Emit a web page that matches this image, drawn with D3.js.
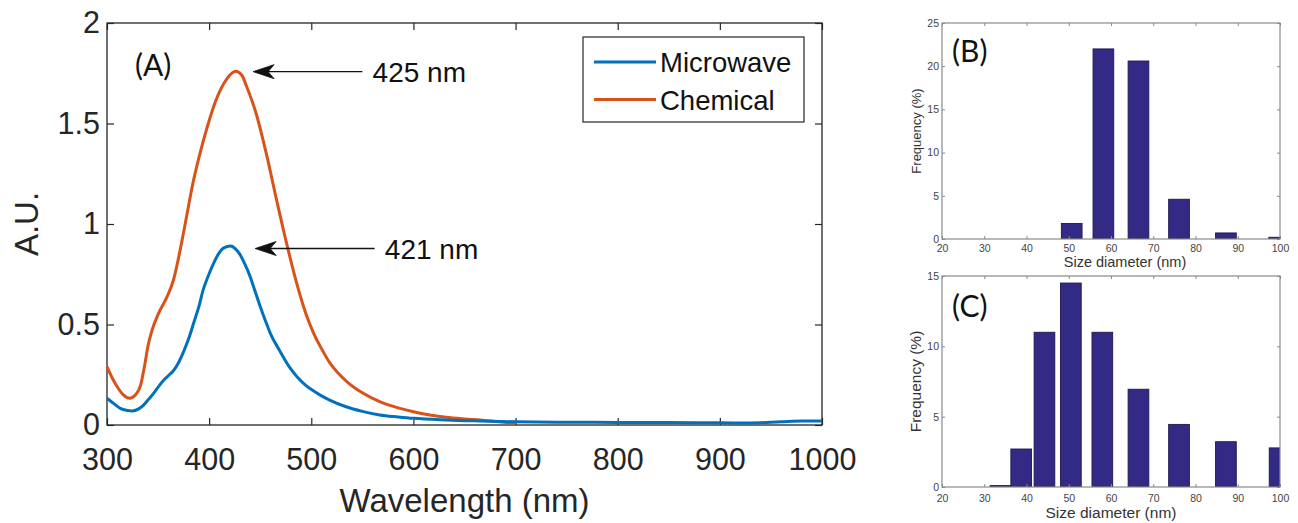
<!DOCTYPE html>
<html><head><meta charset="utf-8">
<script src="https://cdn.jsdelivr.net/npm/d3@7/dist/d3.min.js"></script>
<style>body{margin:0;background:#fff}svg{display:block}</style>
</head><body>
<svg id="c" width="1298" height="523"></svg>
<script>
// ---------- Panel A data ----------
const seriesNames = ["Microwave", "Chemical"];
const wlMicrowave = [300,307,313,319,325,331,336,341,346,351,355,360,365,370,375,380,385,390,394,399,404,409,414,421,426,430,435,440,445,450,455,460,469,479,486,494,502,510,518,534,550,567,585,600,632,665,700,750,800,850,900,930,960,980,1000];
const absMicrowave = [0.133,0.105,0.083,0.073,0.070,0.080,0.100,0.130,0.160,0.195,0.220,0.245,0.270,0.310,0.365,0.430,0.510,0.590,0.670,0.740,0.800,0.850,0.880,0.890,0.875,0.850,0.800,0.740,0.665,0.590,0.520,0.455,0.370,0.285,0.240,0.200,0.170,0.145,0.124,0.091,0.068,0.050,0.040,0.033,0.025,0.020,0.016,0.014,0.013,0.012,0.011,0.010,0.016,0.020,0.020];
const wlChemical = [300,305,310,316,322,328,333,337,340,344,350,358,365,372,378,384,390,398,407,417,426,432,437,446,456,466,476,486,495,502,510,518,526,535,550,567,585,600,616,632,650,665,680,700];
const absChemical = [0.290,0.235,0.190,0.150,0.133,0.150,0.200,0.300,0.390,0.470,0.550,0.630,0.720,0.880,1.040,1.200,1.330,1.480,1.620,1.720,1.760,1.740,1.680,1.550,1.350,1.120,0.900,0.700,0.550,0.460,0.380,0.310,0.260,0.215,0.160,0.116,0.085,0.066,0.050,0.038,0.030,0.025,0.018,0.008];
const xTicksA = [300,400,500,600,700,800,900,1000];
const yTicksA = [0,0.5,1,1.5,2];
const peakLabels = ["425 nm", "421 nm"];
const peakTips = [[443, 1.758], [445, 0.878]];   // arrow tip (wavelength, A.U.)
const peakTails = [550, 562];                      // arrow tail wavelength
const peakTextX = [560, 572];                      // label start wavelength

// ---------- Panels B / C data ----------
const sizeTicks = [20,30,40,50,60,70,80,90,100];
const sizeCentersB = [50.7, 58.2, 66.5, 76.1, 87.2, 99.8];
const freqB = [1.8, 22.0, 20.6, 4.6, 0.7, 0.2];
const freqTicksB = [0,5,10,15,20,25];
const sizeCentersC = [33.85, 38.75, 44.25, 50.5, 57.95, 66.5, 76.1, 87.2, 99.9];
const freqC = [0.1, 2.7, 11.0, 14.5, 11.0, 6.95, 4.45, 3.22, 2.78];
const freqTicksC = [0,5,10,15];

const svg = d3.select("#c");
const AX = "#262626";
const colors = ["#0072BD", "#D95319"];
const fmt = d3.format("~g");

// ================= Panel A =================
const A = {l:107, r:822, t:23, b:425};
const xA = d3.scaleLinear().domain([300,1000]).range([A.l, A.r]);
const yA = d3.scaleLinear().domain([0,2]).range([A.b, A.t]);
const gA = svg.append("g");
gA.append("rect").attr("x",A.l).attr("y",A.t).attr("width",A.r-A.l).attr("height",A.b-A.t)
  .attr("fill","#fff").attr("stroke",AX).attr("stroke-width",1.3);

function styleAxis(g, size, fill, family){
  g.select(".domain").remove();
  g.selectAll(".tick line").attr("stroke", AX).attr("stroke-width",1.2);
  g.selectAll("text").attr("font-size", size).attr("fill", fill).attr("font-family", family);
  g.attr("font-family", family);
}
const fA = "'Liberation Sans', Arial, Helvetica, sans-serif";
styleAxis(gA.append("g").attr("transform",`translate(0,${A.b})`)
  .call(d3.axisBottom(xA).tickValues(xTicksA).tickFormat(fmt).tickSizeInner(-7).tickSizeOuter(0).tickPadding(23)), 30.5, AX, fA);
styleAxis(gA.append("g").attr("transform",`translate(0,${A.t})`)
  .call(d3.axisTop(xA).tickValues(xTicksA).tickSizeInner(-7).tickSizeOuter(0).tickFormat("")), 30, AX, fA);
styleAxis(gA.append("g").attr("transform",`translate(${A.l},0)`)
  .call(d3.axisLeft(yA).tickValues(yTicksA).tickFormat(fmt).tickSizeInner(-7).tickSizeOuter(0).tickPadding(7)), 30.5, AX, fA);
styleAxis(gA.append("g").attr("transform",`translate(${A.r},0)`)
  .call(d3.axisRight(yA).tickValues(yTicksA).tickSizeInner(-7).tickSizeOuter(0).tickFormat("")), 30, AX, fA);

gA.append("text").attr("x",(A.l+A.r)/2).attr("y",512).attr("text-anchor","middle")
  .attr("font-family",fA).attr("font-size",33).attr("fill",AX).text("Wavelength (nm)");
gA.append("text").attr("transform",`translate(38,${(A.t+A.b)/2}) rotate(-90)`).attr("text-anchor","middle")
  .attr("font-family",fA).attr("font-size",33).attr("fill",AX).text("A.U.");

const line = d3.line().x(d=>xA(d[0])).y(d=>yA(d[1])).curve(d3.curveMonotoneX);
const seriesData = [
  d3.zip(wlMicrowave, absMicrowave),
  d3.zip(wlChemical, absChemical)
];
gA.append("path").datum(seriesData[1]).attr("d",line).attr("fill","none")
  .attr("stroke",colors[1]).attr("stroke-width",3).attr("stroke-linejoin","round");
gA.append("path").datum(seriesData[0]).attr("d",line).attr("fill","none")
  .attr("stroke",colors[0]).attr("stroke-width",3).attr("stroke-linejoin","round");

// annotations
peakLabels.forEach((lab,i)=>{
  const tx = xA(peakTips[i][0]), ty = yA(peakTips[i][1]);
  gA.append("line").attr("x1",tx+12).attr("y1",ty).attr("x2",xA(peakTails[i])).attr("y2",ty)
    .attr("stroke","#111").attr("stroke-width",1.3);
  gA.append("path").attr("d",`M${tx},${ty} L${tx+21},${ty-7} L${tx+15},${ty} L${tx+21},${ty+7} Z`)
    .attr("fill","#111").attr("stroke","#111").attr("stroke-width",0.8).attr("stroke-linejoin","round");
  gA.append("text").attr("x",xA(peakTextX[i])).attr("y",ty+10).attr("font-family",fA)
    .attr("font-size",28).attr("fill","#111").text(lab);
});

gA.append("text").attr("x",135).attr("y",76).attr("font-family","Lato, 'Open Sans', sans-serif")
  .attr("font-size",30).attr("fill","#111").text("(A)");

// legend
const lg = gA.append("g");
lg.append("rect").attr("x",583).attr("y",37).attr("width",221).attr("height",85)
  .attr("fill","#fff").attr("stroke",AX).attr("stroke-width",1.2);
seriesNames.forEach((n,i)=>{
  const yy = 62 + i*37.5;
  lg.append("line").attr("x1",594).attr("x2",656).attr("y1",yy).attr("y2",yy)
    .attr("stroke",colors[i]).attr("stroke-width",3);
  lg.append("text").attr("x",660).attr("y",yy+10).attr("font-family",fA).attr("font-size",27.5)
    .attr("fill","#111").text(n);
});

// ================= Panels B & C =================
const fB = "'Liberation Sans', Arial, Helvetica, sans-serif";
const BOX = "#8a8a8a";
function histPanel(id, centers, vals, yMax, yTicks, top, bottom, o){
  const L = 942, R = 1280, binW = 4.9;
  const x = d3.scaleLinear().domain([20,100]).range([L,R]);
  const y = d3.scaleLinear().domain([0,yMax]).range([bottom,top]);
  const g = svg.append("g");
  g.append("clipPath").attr("id",id).append("rect").attr("x",L).attr("y",top).attr("width",R-L).attr("height",bottom-top);
  g.append("g").attr("clip-path",`url(#${id})`).selectAll("rect").data(d3.zip(centers,vals)).join("rect")
    .attr("x",d=>x(d[0]-binW/2)).attr("width",d=>x(d[0]+binW/2)-x(d[0]-binW/2))
    .attr("y",d=>y(d[1])).attr("height",d=>y(0)-y(d[1]))
    .attr("fill","#332a86").attr("stroke","#1c1850").attr("stroke-width",0.9);
  g.append("rect").attr("x",L).attr("y",top).attr("width",R-L).attr("height",bottom-top)
    .attr("fill","none").attr("stroke",BOX).attr("stroke-width",1.2);
  const st = (sel)=>{ sel.select(".domain").remove(); sel.selectAll(".tick line").attr("stroke",BOX);
    sel.selectAll("text").attr("font-family",fB).attr("font-size",10.5).attr("fill","#444"); };
  st(g.append("g").attr("transform",`translate(0,${bottom})`).call(d3.axisBottom(x).tickValues(sizeTicks).tickFormat(fmt).tickSizeInner(-3).tickSizeOuter(0).tickPadding(o.xpad)));
  st(g.append("g").attr("transform",`translate(0,${top})`).call(d3.axisTop(x).tickValues(sizeTicks).tickSizeInner(-3).tickSizeOuter(0).tickFormat("")));
  st(g.append("g").attr("transform",`translate(${L},0)`).call(d3.axisLeft(y).tickValues(yTicks).tickFormat(fmt).tickSizeInner(-3).tickSizeOuter(0).tickPadding(3)));
  st(g.append("g").attr("transform",`translate(${R},0)`).call(d3.axisRight(y).tickValues(yTicks).tickSizeInner(-3).tickSizeOuter(0).tickFormat("")));
  g.append("text").attr("x",o.xlabX).attr("y",o.xlabY).attr("text-anchor","middle").attr("font-family",fB)
    .attr("font-size",o.xlabSize).attr("fill","#333").text("Size diameter (nm)");
  g.append("text").attr("transform",`translate(921,${(top+bottom)/2}) rotate(-90)`).attr("text-anchor","middle")
    .attr("font-family",fB).attr("font-size",o.ylabSize).attr("fill","#333").text("Frequency (%)");
  g.append("text").attr("x",952).attr("y",o.tagY).attr("font-family","Lato, 'Open Sans', sans-serif")
    .attr("font-size",30).attr("fill","#111").text(o.tag);
}
histPanel("clipB", sizeCentersB, freqB, 25, freqTicksB, 23, 239,
  {xpad:6, xlabX:1125, xlabY:267, xlabSize:14.5, ylabSize:13, tag:"(B)", tagY:62});
histPanel("clipC", sizeCentersC, freqC, 15, freqTicksC, 276, 487,
  {xpad:8, xlabX:1111, xlabY:518, xlabSize:15.5, ylabSize:15.5, tag:"(C)", tagY:317});
</script>
</body></html>
